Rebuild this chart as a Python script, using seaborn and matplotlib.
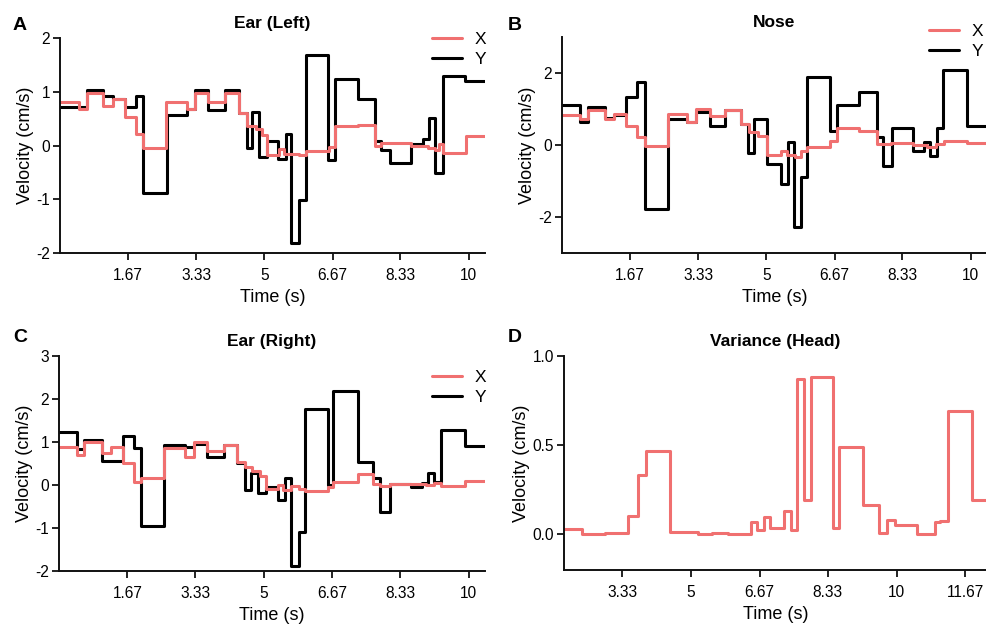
import pandas as pd
import matplotlib
matplotlib.use('Agg')
import matplotlib.pyplot as plt
import seaborn as sns

RED = '#F07070'
BLACK = '#000000'

# --- Ear (Left): segment start times (last = end) and segment values ---
earL_tx = [0, 0.46, 0.66, 1.06, 1.29, 1.59, 1.86, 2.02, 2.6, 3.1, 3.3, 3.63, 4.04, 4.37, 4.58, 4.8, 4.94,
           5.06, 5.36, 5.48, 5.86, 6.03, 6.59, 6.73, 7.3, 7.71, 7.85, 8.59, 9.0, 9.17, 9.28, 9.38, 9.93, 10.4]
earL_x = [0.81, 0.68, 0.98, 0.73, 0.87, 0.53, 0.22, -0.04, 0.81, 0.68, 0.98, 0.81, 0.97, 0.61, 0.37, 0.31, 0.19,
          -0.17, -0.07, -0.15, -0.18, -0.1, -0.02, 0.36, 0.38, -0.01, 0.05, 0.0, -0.04, -0.09, 0.02, -0.14, 0.17]
earL_ty = [0, 0.65, 1.06, 1.29, 1.6, 1.86, 2.02, 2.62, 3.1, 3.3, 3.63, 4.04, 4.37, 4.58, 4.71, 4.86, 5.06,
           5.33, 5.53, 5.65, 5.86, 6.03, 6.57, 6.73, 7.3, 7.71, 7.85, 8.08, 8.6, 8.88, 9.02, 9.17, 9.37, 9.91, 10.4]
earL_y = [0.72, 1.03, 0.92, 0.87, 0.72, 0.92, -0.89, 0.56, 0.67, 1.04, 0.66, 1.03, 0.6, -0.04, 0.62, -0.22,
          0.08, -0.26, 0.22, -1.81, -1.02, 1.69, -0.27, 1.23, 0.87, 0.08, -0.09, -0.33, 0.02, 0.12, 0.51, -0.51,
          1.29, 1.2]

# --- Nose ---
nose_tx = [0, 0.45, 0.63, 1.06, 1.28, 1.56, 1.84, 2.02, 2.6, 3.06, 3.27, 3.62, 4.0, 4.37, 4.57, 4.79, 5.02,
           5.35, 5.5, 5.7, 5.84, 6.0, 6.56, 6.72, 7.28, 7.7, 8.06, 8.6, 8.94, 9.16, 9.34, 9.92, 10.4]
nose_x = [0.84, 0.71, 0.96, 0.72, 0.85, 0.54, 0.21, -0.04, 0.85, 0.65, 1.0, 0.8, 0.98, 0.58, 0.37, 0.26,
          -0.28, -0.16, -0.28, -0.33, -0.16, -0.05, 0.12, 0.46, 0.4, 0.03, 0.06, 0.01, -0.06, 0.03, 0.12, 0.06]
nose_ty = [0, 0.45, 0.63, 1.06, 1.28, 1.56, 1.84, 2.02, 2.6, 3.06, 3.27, 3.62, 4.0, 4.37, 4.56, 4.7, 5.02,
           5.35, 5.52, 5.67, 5.86, 6.0, 6.56, 6.72, 7.28, 7.7, 7.85, 8.07, 8.59, 8.85, 9.01, 9.17, 9.33, 9.92, 10.4]
nose_y = [1.10, 0.63, 1.05, 0.74, 0.82, 1.33, 1.76, -1.78, 0.72, 0.65, 0.91, 0.54, 0.98, 0.58, -0.23, 0.72,
          -0.52, -1.09, 0.07, -2.29, -0.9, 1.88, 0.4, 1.1, 1.47, 0.21, -0.58, 0.46, -0.16, 0.09, -0.3, 0.46,
          2.07, 0.52]

# --- Ear (Right) ---
earR_tx = [0, 0.45, 0.62, 1.04, 1.26, 1.56, 1.83, 1.99, 2.57, 3.08, 3.3, 3.61, 4.02, 4.35, 4.54, 4.72, 4.9,
           5.05, 5.34, 5.46, 5.66, 5.86, 6.01, 6.56, 6.7, 7.3, 7.66, 7.84, 8.07, 8.97, 9.16, 9.33, 9.91, 10.4]
earR_x = [0.88, 0.70, 1.01, 0.74, 0.88, 0.52, 0.08, 0.16, 0.85, 0.64, 1.01, 0.79, 0.93, 0.54, 0.41, 0.33,
          0.21, -0.09, 0.0, -0.12, -0.02, -0.1, -0.13, -0.04, 0.08, 0.26, 0.02, -0.02, 0.02, 0.0, 0.04, -0.02, 0.1]
earR_ty = [0, 0.45, 0.6, 1.04, 1.56, 1.83, 1.99, 2.57, 3.08, 3.3, 3.61, 4.02, 4.35, 4.53, 4.68, 4.85, 5.05,
           5.34, 5.51, 5.66, 5.86, 6.01, 6.56, 6.7, 7.3, 7.66, 7.84, 8.07, 8.6, 8.85, 9.01, 9.16, 9.33, 9.91, 10.4]
earR_y = [1.24, 0.83, 1.05, 0.55, 1.14, 0.85, -0.95, 0.93, 0.89, 0.95, 0.64, 0.93, 0.52, -0.12, 0.27, -0.18,
          -0.04, -0.35, 0.16, -1.88, -1.09, 1.77, 0.0, 2.19, 0.53, 0.16, -0.62, 0.02, -0.04, 0.05, 0.27, 0.08,
          1.29, 0.91]

# --- Variance (Head) ---
var_t = [1.91, 2.34, 2.91, 3.46, 3.72, 3.9, 4.49, 5.18, 5.5, 5.91, 6.45, 6.6, 6.78, 6.93, 7.25, 7.42, 7.57,
         7.74, 7.91, 8.46, 8.61, 9.19, 9.58, 9.76, 9.96, 10.49, 10.94, 11.06, 11.24, 11.84, 12.2]
var_v = [0.03, 0.0, 0.01, 0.1, 0.33, 0.47, 0.015, 0.0, 0.01, 0.0, 0.07, 0.025, 0.095, 0.035, 0.13, 0.025,
         0.87, 0.19, 0.88, 0.035, 0.49, 0.165, 0.005, 0.08, 0.05, 0.0, 0.07, 0.075, 0.69, 0.19]

time_ticks = [1.67, 3.33, 5, 6.67, 8.33, 10]
time_labels = ['1.67', '3.33', '5', '6.67', '8.33', '10']
var_ticks = [3.33, 5, 6.67, 8.33, 10, 11.67]
var_labels = ['3.33', '5', '6.67', '8.33', '10', '11.67']

sns.set_style('white')
plt.rcParams['font.family'] = ['Liberation Sans', 'DejaVu Sans']
plt.rcParams['axes.unicode_minus'] = False
plt.rcParams['text.color'] = 'black'
plt.rcParams['axes.labelcolor'] = 'black'
plt.rcParams['xtick.color'] = 'black'
plt.rcParams['ytick.color'] = 'black'

W, H = 987, 626
fig = plt.figure(figsize=(W / 100, H / 100), dpi=100)


def step_line(ax, times, vals, color, label, lw=2.2):
    sns.lineplot(x=times, y=list(vals) + [vals[-1]], ax=ax, color=color, lw=lw,
                 drawstyle='steps-post', label=label, estimator=None)


def style(ax, title, ylim, yticks, xlim, xticks, xlabels):
    ax.set_xlim(xlim)
    ax.set_ylim(ylim)
    ax.set_yticks(yticks)
    ax.set_xticks(xticks)
    ax.set_xticklabels(xlabels)
    ax.set_title(title, fontsize=12.5, fontweight='bold', pad=7, color='black')
    ax.set_xlabel('Time (s)', fontsize=13, labelpad=4)
    ax.set_ylabel('Velocity (cm/s)', fontsize=13, labelpad=2)
    sns.despine(ax=ax)
    for s in ['left', 'bottom']:
        ax.spines[s].set_linewidth(1.4)
        ax.spines[s].set_color('#111111')
    ax.tick_params(axis='both', direction='out', length=5, width=1.3, color='#111111',
                   labelcolor='black', labelsize=11.2, left=True, bottom=True)
    ax.tick_params(axis='x', pad=6)
    ax.tick_params(axis='y', pad=2)


def add_legend(ax, x_px, top_px):
    h, l = ax.get_legend_handles_labels()
    order = [l.index('X'), l.index('Y')]
    ax.legend([h[i] for i in order], [l[i] for i in order], loc='upper left',
              bbox_to_anchor=(x_px / W, 1 - top_px / H), bbox_transform=fig.transFigure,
              frameon=False, fontsize=12.5, handlelength=1.75, handletextpad=0.7,
              labelspacing=0.25, borderpad=0, borderaxespad=0)


panels = [
    ([60, 253, 425, 215], 'Ear (Left)', earL_tx, earL_x, earL_ty, earL_y, (-2, 2), [-2, -1, 0, 1, 2], (432, 32)),
    ([562, 253, 425, 216], 'Nose', nose_tx, nose_x, nose_ty, nose_y, (-3, 3), [-2, 0, 2], (929, 24)),
    ([59, 571, 426, 215], 'Ear (Right)', earR_tx, earR_x, earR_ty, earR_y, (-2, 3), [-2, -1, 0, 1, 2, 3], (432, 370)),
]

for rect, title, tx, xv, ty, yv, ylim, yticks, leg in panels:
    l, b, w, h = rect
    ax = fig.add_axes([l / W, 1 - b / H, w / W, h / H])
    step_line(ax, ty, yv, BLACK, 'Y')
    step_line(ax, tx, xv, RED, 'X')
    style(ax, title, ylim, yticks, (0, 10.4), time_ticks, time_labels)
    add_legend(ax, *leg)

axD = fig.add_axes([564 / W, 1 - 570 / H, 423 / W, 214 / H])
step_line(axD, var_t, var_v, RED, None)
style(axD, 'Variance (Head)', (-0.2, 1.0), [0.0, 0.5, 1.0], (1.91, 12.2), var_ticks, var_labels)
axD.set_yticklabels(['0.0', '0.5', '1.0'])
if axD.get_legend() is not None:
    axD.get_legend().remove()

for letter, x, y in [('A', 13, 30), ('B', 508, 30), ('C', 13, 342), ('D', 508, 342)]:
    fig.text(x / W, 1 - y / H, letter, fontsize=14, fontweight='bold', ha='left', va='baseline')

fig.savefig('out.png', dpi=100)
